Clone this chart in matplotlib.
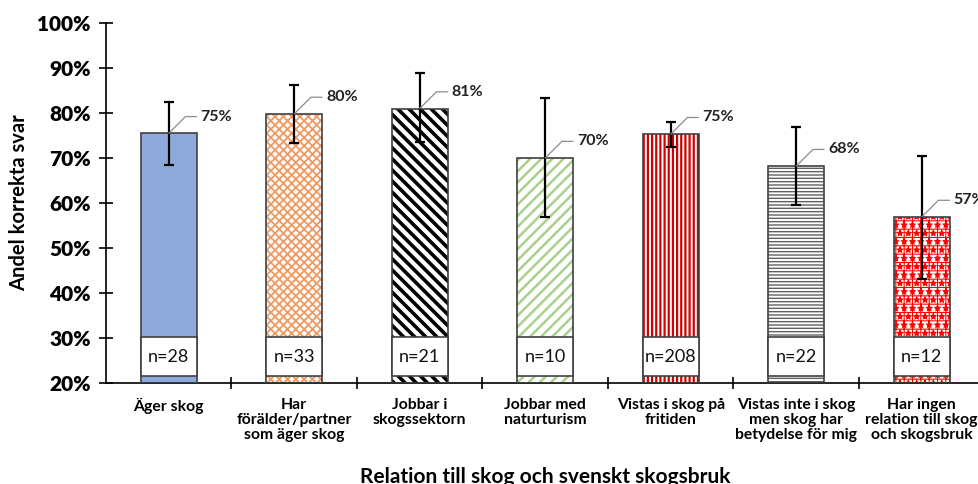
import matplotlib
matplotlib.use("Agg")
import matplotlib.pyplot as plt
import numpy as np

plt.rcParams['font.family'] = ['Lato', 'DejaVu Sans']

categories = ["Äger skog", "Har\nförälder/partner\nsom äger skog", "Jobbar i\nskogssektorn",
              "Jobbar med\nnaturturism", "Vistas i skog på\nfritiden",
              "Vistas inte i skog\nmen skog har\nbetydelse för mig",
              "Har ingen\nrelation till skog\noch skogsbruk"]
values = [75.5, 79.8, 81.0, 70.0, 75.3, 68.2, 56.9]
value_labels = ["75%", "80%", "81%", "70%", "75%", "68%", "57%"]
err_high = [82.4, 86.2, 88.9, 83.3, 78.0, 76.9, 70.4]
err_low = [68.4, 73.3, 73.6, 56.9, 72.4, 59.6, 43.1]
n_values = [28, 33, 21, 10, 208, 22, 12]
yticks = [20, 30, 40, 50, 60, 70, 80, 90, 100]

# styles: (facecolor, hatch, hatchcolor, hatch linewidth)
styles = [
    ("#8EA9DB", None, None, 1.0),
    ("white", "xxxx", "#EE9A62", 1.3),
    ("white", "\\\\\\", "#000000", 2.6),
    ("white", "///", "#A9D18E", 1.8),
    ("white", "||||", "#D00000", 1.6),
    ("white", "-----", "#606060", 1.0),
    ("white", "++**", "#FF0000", 0.8),
]

fig = plt.figure(figsize=(9.79, 4.84), dpi=100)
ax = fig.add_axes([106 / 979, 101 / 484, 878.5 / 979, 360 / 484])

x = np.arange(len(categories))
width = 0.45
base = 20
edge = "#404040"

for i in range(len(categories)):
    fc, hatch, hc, hlw = styles[i]
    with plt.rc_context({'hatch.linewidth': hlw}):
        b = ax.bar(x[i], values[i] - base, bottom=base, width=width, color=fc,
                   hatch=hatch, edgecolor=hc if hc else fc, linewidth=0, zorder=2)
        for p in b:
            if hasattr(p, "set_hatch_linewidth"):
                p.set_hatch_linewidth(hlw)
    ax.bar(x[i], values[i] - base, bottom=base, width=width, facecolor="none",
           edgecolor=edge, linewidth=1.2, zorder=3)

# n boxes
box_bottom, box_top = 21.5, 30.2
ax.bar(x, box_top - box_bottom, bottom=box_bottom, width=width, facecolor="white",
       edgecolor=edge, linewidth=1.2, zorder=4)
for i, n in enumerate(n_values):
    ax.text(x[i], (box_top + box_bottom) / 2, f"n={n}", ha="center", va="center",
            fontsize=13, zorder=5, color="#111111")

# error bars
yerr = [np.array(values) - np.array(err_low), np.array(err_high) - np.array(values)]
ax.errorbar(x, values, yerr=yerr, fmt="none", ecolor="black", elinewidth=1.6,
            capsize=3.8, capthick=1.6, zorder=6)

# value labels with leader lines
for i in range(len(categories)):
    ax.annotate(value_labels[i], xy=(x[i], values[i]), xytext=(23, 12),
                textcoords="offset points", ha="left", va="center",
                fontsize=11.5, fontweight="bold", color="#222222", zorder=7,
                arrowprops=dict(arrowstyle="-", color="#8C8C8C", lw=0.9,
                                shrinkA=1, shrinkB=0, relpos=(0, 0.5),
                                connectionstyle="angle,angleA=0,angleB=45,rad=0"))

ax.set_xlim(-0.5, len(categories) - 0.5)
ax.set_ylim(20, 100)
ax.set_yticks(yticks)
ax.set_yticklabels([f"{t}%" for t in yticks])
ax.set_xticks(x)
ax.set_xticklabels(categories)
ax.set_xticks(np.arange(0.5, len(categories) - 0.5, 1), minor=True)

ax.tick_params(axis="y", direction="inout", length=10, width=1.2, labelsize=15, pad=6)
for lab in ax.get_yticklabels():
    lab.set_fontweight("heavy")
ax.tick_params(axis="x", which="major", length=0, labelsize=11.3, pad=11)
ax.tick_params(axis="x", which="minor", direction="inout", length=9, width=1.2)
for lab in ax.get_xticklabels():
    lab.set_fontweight("bold")
    lab.set_linespacing(1.1)

for s in ["top", "right"]:
    ax.spines[s].set_visible(False)
for s in ["left", "bottom"]:
    ax.spines[s].set_linewidth(1.2)
    ax.spines[s].set_color("black")

ax.set_ylabel("Andel korrekta svar", fontsize=14.5, fontweight="bold", labelpad=6)
ax.set_xlabel("Relation till skog och svenskt skogsbruk", fontsize=15,
              fontweight="bold")
ax.xaxis.set_label_coords(0.5, -(467 - 383) / 360)

fig.savefig("out.png", dpi=100)
